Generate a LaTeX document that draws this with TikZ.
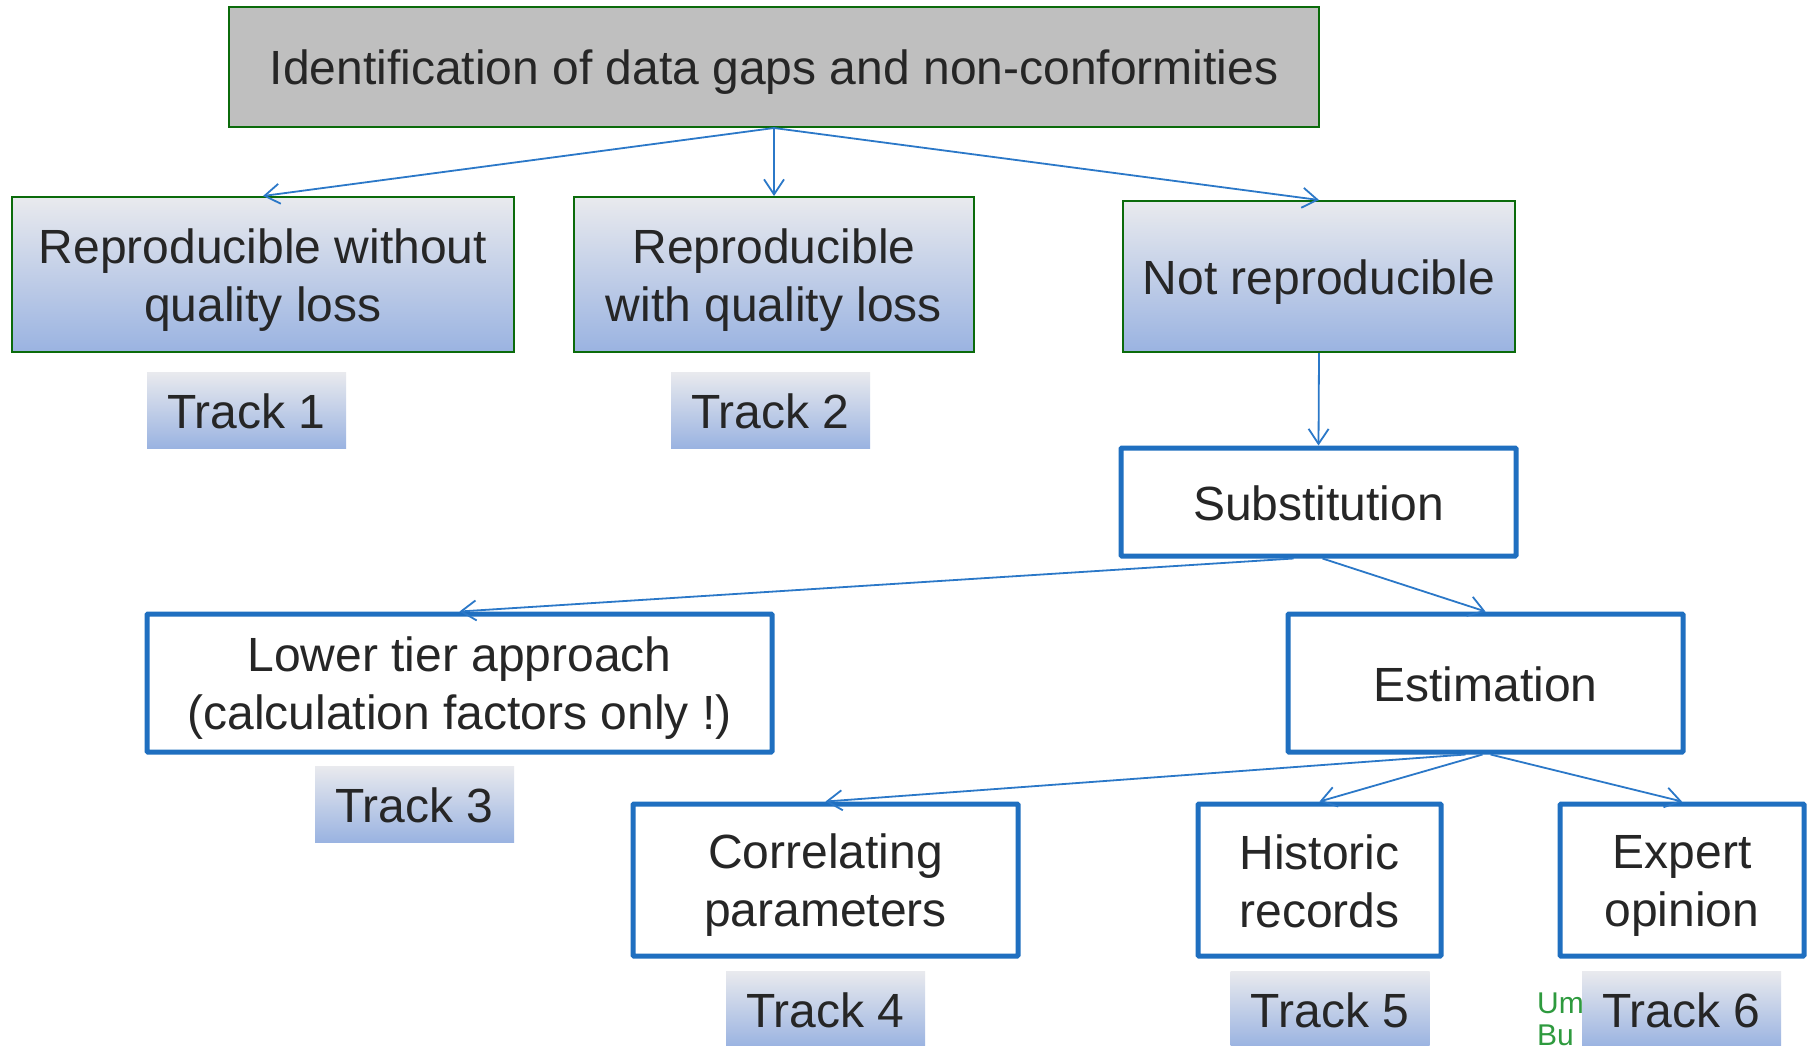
\documentclass[tikz,border=0pt]{standalone}
\usepackage{fontspec}
\setmainfont{Liberation Sans}
\usetikzlibrary{arrows.meta}
\definecolor{txt}{HTML}{262626}
\definecolor{grayfill}{HTML}{BFBFBF}
\definecolor{gborder}{HTML}{0B6B0B}
\definecolor{gradtop}{HTML}{E9EAEE}
\definecolor{gradmid}{HTML}{D0D5DF}
\definecolor{gradbot}{HTML}{9AB3E1}
\definecolor{bborder}{HTML}{1F6FC0}
\definecolor{arrowc}{HTML}{2B78C8}
\definecolor{umgreen}{HTML}{2E9A3E}
\newcommand\myStrut{\rule[-8.2pt]{0pt}{53.6pt}}
\tikzset{
  bigfont/.style={font=\fontsize{48}{58}\selectfont, text=txt, align=center},
  topbox/.style={bigfont, draw=gborder, line width=2pt, fill=grayfill, inner sep=0pt},
  greenbox/.style={bigfont, draw=gborder, line width=2pt, top color=gradtop, middle color=gradmid, bottom color=gradbot, inner sep=0pt},
  trackbox/.style={bigfont, top color=gradtop, middle color=gradmid, bottom color=gradbot, inner sep=0pt, minimum width=199pt, minimum height=76pt},
  bluebox/.style={bigfont, draw=bborder, line width=5pt, fill=white, inner sep=0pt, rounded corners=1pt},
  umtext/.style={anchor=base west, inner sep=0pt, font=\fontsize{30}{32}\selectfont, text=umgreen},
  conn/.style={draw=arrowc, line width=1.8pt, -{Straight Barb[length=15pt,width=20pt,line width=1.8pt]}}
}
\begin{document}
\begin{tikzpicture}[x=1pt,y=-1pt]
\useasboundingbox (0,0) rectangle (1811,1045);
\clip (0,0) rectangle (1811,1045);
\fill[white] (0,0) rectangle (1811,1045);

\node[topbox, minimum width=1090pt, minimum height=120pt] (top) at (774,67) {\myStrut Identification of data gaps and non-conformities};

\node[greenbox, minimum width=502pt, minimum height=155pt] (b1) at (263,274.5) {\myStrut Reproducible without\\\myStrut quality loss};
\node[greenbox, minimum width=400pt, minimum height=155pt] (b2) at (774,274.5) {\myStrut Reproducible\\\myStrut with quality loss};
\node[greenbox, minimum width=392pt, minimum height=151pt] (b3) at (1319,276.5) {\myStrut Not reproducible};

\node[trackbox] (t1) at (246.5,410) {\myStrut Track 1};
\node[trackbox] (t2) at (770.5,410) {\myStrut Track 2};

\node[bluebox, minimum width=395pt, minimum height=108pt] (subst) at (1318.5,502) {\myStrut Substitution};
\node[bluebox, minimum width=625pt, minimum height=138pt] (lower) at (459.5,683) {\myStrut Lower tier approach\\\myStrut (calculation factors only !)};
\node[bluebox, minimum width=395pt, minimum height=138pt] (est) at (1485.5,683) {\myStrut Estimation};

\node[trackbox] (t3) at (414.5,804) {\myStrut Track 3};

\node[bluebox, minimum width=385pt, minimum height=152pt] (corr) at (825.5,880) {\myStrut Correlating\\\myStrut parameters};
\node[bluebox, minimum width=243pt, minimum height=152pt] (hist) at (1319.5,880) {\myStrut Historic\\\myStrut records};
\node[bluebox, minimum width=244pt, minimum height=152pt] (expert) at (1682,880) {\myStrut Expert\\\myStrut opinion};

\node[umtext] (um1) at (1537,1013) {Um};
\node[umtext] (um2) at (1537,1045) {Bu};

\node[trackbox] (t4) at (825.5,1009) {\myStrut Track 4};
\node[trackbox] (t5) at (1330,1009) {\myStrut Track 5};
\node[trackbox] (t6) at (1681.5,1009) {\myStrut Track 6};

\draw[conn] (top.south) -- (b1.north);
\draw[conn] (top.south) -- (b2.north);
\draw[conn] (top.south) -- (b3.north);
\draw[conn] (b3.south) -- (subst.north);
\draw[conn] ([xshift=-25pt]subst.south) -- (lower.north);
\draw[conn] ([xshift=4pt]subst.south) -- (est.north);
\draw[conn] ([xshift=-20pt]est.south) -- (corr.north);
\draw[conn] ([xshift=-3pt]est.south) -- (hist.north);
\draw[conn] ([xshift=5pt]est.south) -- (expert.north);
\end{tikzpicture}
\end{document}
